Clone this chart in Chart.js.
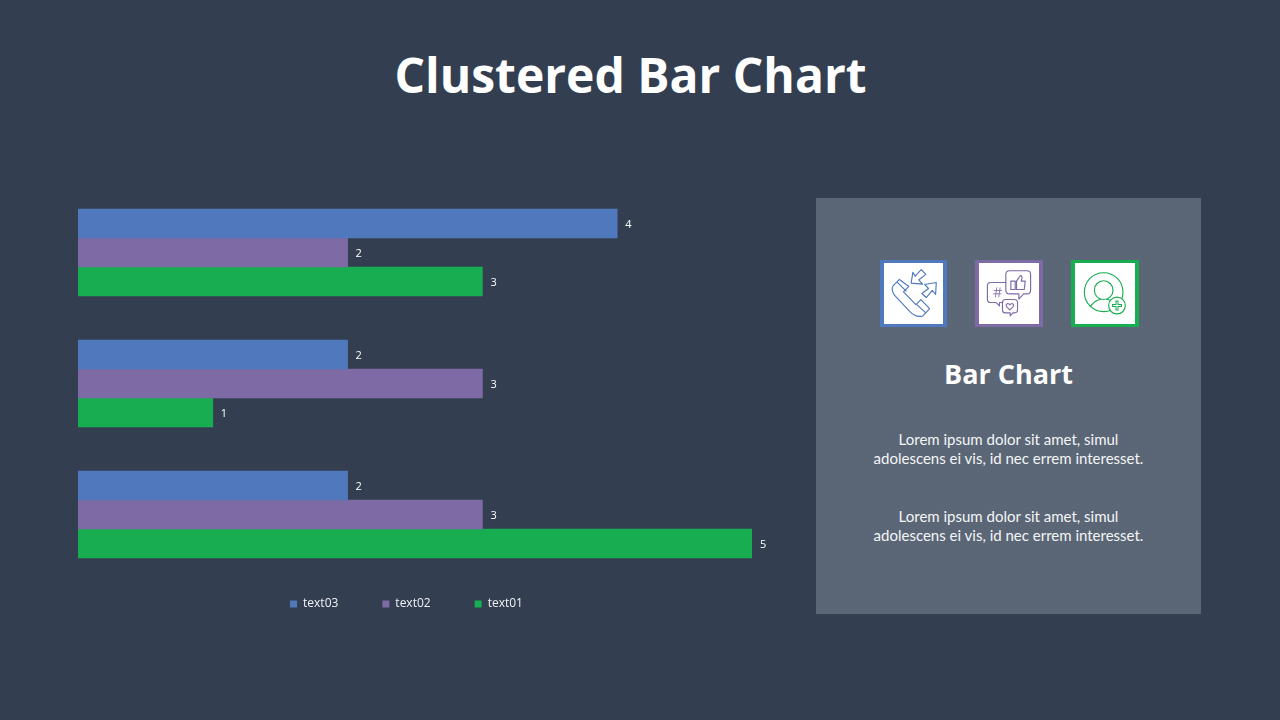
<!DOCTYPE html>
<html>
<head>
<meta charset="utf-8">
<title>Clustered Bar Chart</title>
<script src="https://cdn.jsdelivr.net/npm/chart.js@4"></script>
<style>
    html, body { margin: 0; padding: 0; }
    body { width: 1280px; height: 720px; background: #333f50; overflow: hidden; position: relative; color: #fff; }
    h1 { position: absolute; left: 0; width: 1261px; top: 42px; margin: 0; text-align: center; font: 700 48px/66px "Open Sans", sans-serif; }
    #chartWrap { position: absolute; left: 30px; top: 187px; width: 751px; height: 459px; }
    #panel { position: absolute; left: 816px; top: 198px; width: 385px; height: 416px; background-color: #5a6675; background-image: radial-gradient(rgba(255,255,255,0.012) 1px, transparent 1px); background-size: 4px 4px; }
    #panel h2 { position: absolute; left: 0; width: 385px; top: 157px; margin: 0; text-align: center; font: 700 27px/37px "Open Sans", sans-serif; }
    #panel p { position: absolute; left: 0; width: 385px; margin: 0; text-align: center; font: 400 15px/19px Lato, sans-serif; color: #f4f5f7; }
    .icon { position: absolute; top: 62px; height: 61px; background: #fff; border: 4px solid; border-width: 3px 4px; }
    .icon svg { position: absolute; left: -4px; top: -3px; height: 67px; fill: none; stroke-width: 3.4; stroke-linejoin: round; stroke-linecap: round; }
</style>
</head>
<body>
<h1>Clustered Bar Chart</h1>
<div id="chartWrap"><canvas id="barChart"></canvas></div>
<div id="panel">
    <div class="icon" style="left:64px;width:59px;border-color:#4f79bc">
        <svg style="width:67px" viewBox="60 45 200 200" stroke="#4f79bc">
            <path d="M118 103 L99 122 Q92 132 103 150 L150 200 Q168 218 188 212 L208 190 L182 163 L167 178 L130 140 L146 124 Z"/>
            <path d="M112 112 L138 138 M170 178 L196 202"/>
            <path d="M153 114 L187 117 L176 104 L197 88 L183 74 L165 93 L158 82 Z"/>
            <path d="M228 112 L193 118 L205 130 L185 145 L198 157 L216 136 L226 148 Z"/>
        </svg>
    </div>
    <div class="icon" style="left:159px;width:60px;border-color:#7e6aa5">
        <svg style="width:68px" viewBox="345 45 203 200" stroke="#7e6aa5" preserveAspectRatio="none">
            <path d="M448 77 L500 77 Q511 77 511 88 L511 135 Q511 146 500 146 L490 146 L476 162 L476 146 L448 146 Q437 146 437 135 L437 88 Q437 77 448 77 Z"/>
            <path d="M452 108 L465 108 L465 133 L452 133 Z M469 108 L480 92 Q486 90 485 100 L483 108 L495 108 L492 133 L469 133 Z"/>
            <path d="M392 112 L437 112 M392 112 Q382 112 382 122 L382 162 Q382 172 392 172 L408 172 L418 182 L418 172 L428 172"/>
            <path d="M402 136 L424 136 M400 146 L422 146 M410 128 L406 155 M420 128 L416 155" stroke-width="2.5"/>
            <path d="M436 163 L463 163 Q472 163 472 172 L472 194 Q472 203 463 203 L458 203 L450 212 L450 203 L436 203 Q427 203 427 194 L427 172 Q427 163 436 163 Z"/>
            <path d="M449 194 L439 184 Q436 176 443 175 Q447 175 449 179 Q451 175 455 175 Q462 176 459 184 Z"/>
        </svg>
    </div>
    <div class="icon" style="left:255px;width:60px;border-color:#17ad50">
        <svg style="width:68px" viewBox="633 45 204 200" stroke="#17ad50" preserveAspectRatio="none">
            <circle cx="731" cy="141" r="58"/>
            <circle cx="731" cy="135" r="28"/>
            <path d="M691 184 Q703 166 722 162 M740 162 Q748 163 756 168"/>
            <circle cx="771" cy="181" r="25" fill="#fff"/>
            <path d="M771 166 L771 196 M756 181 L786 181" stroke-width="9" stroke-linecap="butt"/>
            <path d="M771 169 L771 193 M759 181 L783 181" stroke="#fff" stroke-width="3" stroke-linecap="butt"/>
        </svg>
    </div>
    <h2>Bar Chart</h2>
    <p style="top:232px">Lorem ipsum dolor sit amet, simul<br>adolescens ei vis, id nec errem interesset.</p>
    <p style="top:309px">Lorem ipsum dolor sit amet, simul<br>adolescens ei vis, id nec errem interesset.</p>
</div>
<script>
const categories = ['Group A', 'Group B', 'Group C'];
const text03Values = [4, 2, 2];
const text02Values = [2, 3, 3];
const text01Values = [3, 1, 5];
const seriesColors = ['#4f79bc', '#7e6aa5', '#17ad50'];

// value labels at the end of each bar
const barLabels = {
    id: 'barLabels',
    afterDatasetsDraw(chart) {
        const ctx = chart.ctx;
        ctx.save();
        ctx.font = '11px "Open Sans", sans-serif';
        ctx.fillStyle = '#ffffff';
        ctx.textBaseline = 'middle';
        chart.data.datasets.forEach((ds, i) => {
            chart.getDatasetMeta(i).data.forEach((bar, j) => {
                ctx.fillText(ds.data[j], bar.x + 8, bar.y + 1.5);
            });
        });
        ctx.restore();
    }
};

// legend sits closer to the bars than its wide item padding would allow
const moveLegend = {
    id: 'moveLegend',
    afterLayout(chart) {
        chart.legend.top -= 26;
        chart.legend.left -= 8.5;
        chart.legend.right -= 8.5;
    }
};

new Chart(document.getElementById('barChart'), {
    type: 'bar',
    data: {
        labels: categories,
        datasets: [
            { label: 'text03', data: text03Values, backgroundColor: seriesColors[0] },
            { label: 'text02', data: text02Values, backgroundColor: seriesColors[1] },
            { label: 'text01', data: text01Values, backgroundColor: seriesColors[2] }
        ]
    },
    options: {
        indexAxis: 'y',
        responsive: true,
        maintainAspectRatio: false,
        animation: false,
        layout: { padding: { left: 48, right: 29, top: 0, bottom: 0 } },
        datasets: { bar: { barThickness: 29, borderWidth: 0 } },
        scales: {
            x: { display: false, min: 0, max: 5 },
            y: { display: false }
        },
        plugins: {
            tooltip: { enabled: false },
            legend: {
                position: 'bottom',
                labels: {
                    color: '#f0f2f5',
                    font: { family: '"Open Sans", sans-serif', size: 12 },
                    boxWidth: 7,
                    boxHeight: 7,
                    padding: 44
                }
            }
        }
    },
    plugins: [barLabels, moveLegend]
});
</script>
</body>
</html>
